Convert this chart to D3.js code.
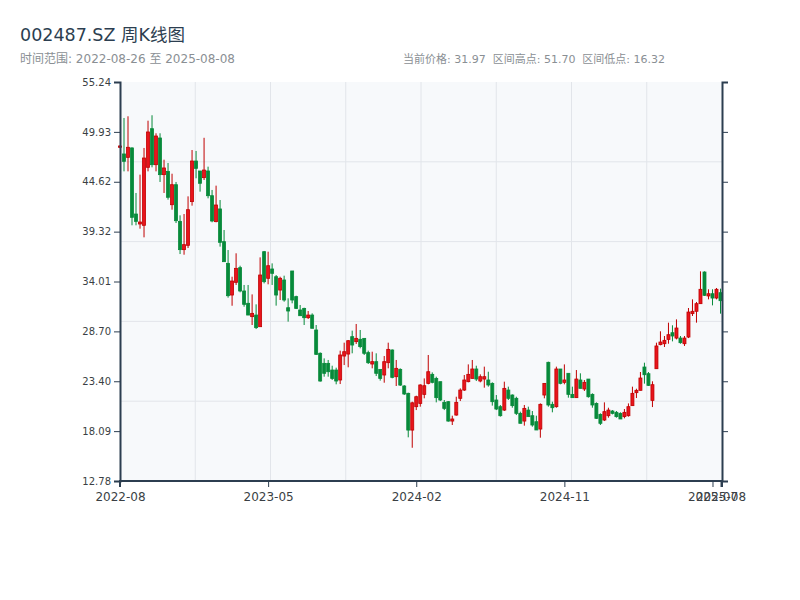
<!DOCTYPE html>
<html>
<head>
<meta charset="utf-8">
<style>
  body { margin: 0; background: #fff; }
  text { font-family: "DejaVu Sans", "Noto Sans CJK SC", sans-serif; }
</style>
</head>
<body>
<script src="https://d3js.org/d3.v7.min.js"></script>
<script>
// weekly bars, 002487.SZ
var dates = ["2022-08-26","2022-09-02","2022-09-09","2022-09-16","2022-09-23","2022-09-30","2022-10-14","2022-10-21","2022-10-28","2022-11-04",
  "2022-11-11","2022-11-18","2022-11-25","2022-12-02","2022-12-09","2022-12-16","2022-12-23","2022-12-30","2023-01-06","2023-01-13",
  "2023-01-20","2023-02-03","2023-02-10","2023-02-17","2023-02-24","2023-03-03","2023-03-10","2023-03-17","2023-03-24","2023-03-31",
  "2023-04-07","2023-04-14","2023-04-21","2023-04-28","2023-05-05","2023-05-12","2023-05-19","2023-05-26","2023-06-02","2023-06-09",
  "2023-06-16","2023-06-21","2023-06-30","2023-07-07","2023-07-14","2023-07-21","2023-07-28","2023-08-04","2023-08-11","2023-08-18",
  "2023-08-25","2023-09-01","2023-09-08","2023-09-15","2023-09-22","2023-09-28","2023-10-13","2023-10-20","2023-10-27","2023-11-03",
  "2023-11-10","2023-11-17","2023-11-24","2023-12-01","2023-12-08","2023-12-15","2023-12-22","2023-12-29","2024-01-05","2024-01-12",
  "2024-01-19","2024-01-26","2024-02-02","2024-02-08","2024-02-23","2024-03-01","2024-03-08","2024-03-15","2024-03-22","2024-03-29",
  "2024-04-03","2024-04-12","2024-04-19","2024-04-26","2024-04-30","2024-05-10","2024-05-17","2024-05-24","2024-05-31","2024-06-07",
  "2024-06-14","2024-06-21","2024-06-28","2024-07-05","2024-07-12","2024-07-19","2024-07-26","2024-08-02","2024-08-09","2024-08-16",
  "2024-08-23","2024-08-30","2024-09-06","2024-09-13","2024-09-20","2024-09-27","2024-09-30","2024-10-11","2024-10-18","2024-10-25",
  "2024-11-01","2024-11-08","2024-11-15","2024-11-22","2024-11-29","2024-12-06","2024-12-13","2024-12-20","2024-12-27","2025-01-03",
  "2025-01-10","2025-01-17","2025-01-24","2025-01-27","2025-02-07","2025-02-14","2025-02-21","2025-02-28","2025-03-07","2025-03-14",
  "2025-03-21","2025-03-28","2025-04-03","2025-04-11","2025-04-18","2025-04-25","2025-04-30","2025-05-09","2025-05-16","2025-05-23",
  "2025-05-30","2025-06-06","2025-06-13","2025-06-20","2025-06-27","2025-07-04","2025-07-11","2025-07-18","2025-07-25","2025-08-01",
  "2025-08-08"];

var open = [48.29,47.58,47.22,48.22,41.19,40.13,39.99,46.16,50.27,46.44,
  49.28,45.38,45.73,42.18,44.31,40.41,37.40,37.86,42.51,46.83,
  45.77,45.06,45.77,43.14,40.38,41.73,38.25,35.94,32.57,33.92,
  35.48,33.00,31.69,30.27,30.44,29.20,37.18,34.35,35.34,34.52,
  33.10,34.17,31.22,35.13,32.40,30.98,31.15,30.16,30.44,28.85,
  26.37,25.30,25.30,24.59,24.59,23.53,26.08,26.29,28.14,27.61,
  27.86,27.96,26.44,25.23,25.48,24.66,24.06,25.37,26.72,23.88,
  24.66,22.89,22.11,18.20,20.69,21.04,22.00,23.17,24.13,23.70,
  23.35,21.15,21.22,19.16,19.80,21.58,22.46,23.35,23.70,24.70,
  23.42,23.63,23.53,23.17,21.40,20.69,20.33,22.46,21.93,21.58,
  19.98,19.16,20.33,19.73,19.09,18.31,21.93,25.41,20.94,20.69,
  24.70,23.28,24.24,22.00,21.65,23.53,22.57,23.63,22.00,21.04,
  19.87,19.27,19.73,20.23,20.09,19.98,19.63,19.73,20.80,22.18,
  22.43,24.91,24.20,21.36,24.73,27.29,27.39,27.85,28.56,27.99,
  27.99,27.39,28.10,30.59,30.84,31.65,35.02,32.47,32.71,32.25,
  32.82];

var close = [48.43,46.80,48.29,40.84,40.41,40.34,47.15,49.92,46.44,49.49,
  45.38,46.09,42.97,44.31,40.48,37.40,37.93,41.65,46.83,46.05,
  44.46,45.87,43.14,40.45,42.15,38.18,36.12,32.50,34.06,35.41,
  33.00,31.58,30.44,30.62,29.10,34.70,33.99,35.69,34.88,32.57,
  34.35,32.04,30.87,32.04,31.15,30.37,30.16,30.44,29.03,26.26,
  23.42,24.24,24.41,23.70,23.42,26.19,26.54,27.71,27.25,27.96,
  27.08,26.37,25.37,25.48,24.24,23.70,25.48,26.79,23.81,24.77,
  22.99,22.04,18.20,21.10,21.75,23.00,22.92,24.41,23.28,21.65,
  21.40,20.51,19.16,19.38,21.15,22.46,23.53,24.13,24.70,23.63,
  23.88,23.88,23.00,21.22,20.44,19.73,22.64,21.58,20.80,19.98,
  18.92,20.51,19.63,18.74,18.21,20.94,23.17,20.87,20.58,24.70,
  23.17,23.53,22.00,21.65,23.63,22.64,23.28,21.75,20.87,19.45,
  18.92,20.16,20.33,19.98,19.63,19.38,20.09,20.69,22.11,22.43,
  23.74,24.09,22.96,23.03,27.15,27.57,27.75,28.35,28.21,29.06,
  27.50,27.99,30.76,30.84,31.65,33.18,32.54,32.71,32.25,33.18,
  31.97];

var high = [48.50,51.41,51.59,48.29,43.43,45.38,48.22,51.12,51.70,49.78,
  49.78,46.97,46.62,45.48,44.60,41.05,41.19,43.07,48.00,47.90,
  45.77,49.30,46.23,43.75,44.21,42.68,39.49,37.36,34.52,37.01,
  35.69,33.64,33.64,32.64,31.58,36.58,37.26,37.18,35.94,34.70,
  34.52,34.63,32.22,35.13,32.50,31.51,31.22,30.87,30.62,29.38,
  26.47,25.83,25.66,25.05,24.84,26.65,27.50,27.78,28.78,29.49,
  28.85,27.96,26.65,26.54,26.37,24.66,26.08,27.50,26.79,25.66,
  24.77,22.99,22.18,21.22,21.86,23.07,23.70,26.19,24.34,23.88,
  23.35,21.40,21.29,19.73,21.75,22.64,24.06,25.19,25.66,25.05,
  24.13,24.95,24.41,23.28,21.93,20.87,23.35,22.82,22.00,21.75,
  20.16,20.87,20.69,20.23,19.73,21.04,23.17,25.48,21.22,24.95,
  24.70,25.19,24.24,22.82,24.59,24.24,23.53,23.63,22.11,21.15,
  19.98,21.15,20.58,20.33,20.23,20.09,20.44,21.04,22.82,22.60,
  24.38,25.37,24.38,23.39,27.50,28.71,28.21,29.63,29.35,29.98,
  28.21,28.21,31.19,32.11,31.83,35.09,35.09,33.18,33.18,33.32,
  33.25];

var low = [48.20,45.73,45.73,39.99,39.99,39.63,38.71,45.73,46.16,45.73,
  44.60,43.43,42.72,41.65,40.23,36.93,36.86,37.57,42.08,44.99,
  43.57,44.81,42.86,40.31,40.31,37.72,36.12,32.29,31.43,33.64,
  32.86,31.33,30.44,29.38,28.95,29.20,33.81,33.71,33.64,31.44,
  32.04,31.86,29.74,31.69,31.08,30.37,29.38,30.02,29.03,26.19,
  23.35,23.88,23.88,23.53,23.07,23.10,25.12,24.88,26.37,27.36,
  26.90,26.19,25.23,24.77,23.95,23.46,23.24,24.77,23.71,22.89,
  22.89,21.93,17.43,16.32,20.33,20.69,21.58,23.07,23.17,21.15,
  21.29,20.33,19.09,18.74,19.73,21.29,22.36,23.28,23.70,23.42,
  23.28,22.71,22.82,20.80,20.33,19.63,20.23,21.40,20.58,19.80,
  18.92,18.67,19.63,18.56,18.21,17.39,21.58,20.69,20.09,20.58,
  23.07,23.07,21.65,21.65,21.65,22.64,22.36,21.65,20.58,19.38,
  18.74,19.16,19.52,19.87,19.52,19.38,19.45,19.63,20.80,21.61,
  22.43,23.14,22.89,20.65,24.73,27.22,27.04,27.39,27.64,27.85,
  27.39,27.15,27.99,30.34,29.63,31.65,32.47,32.11,31.47,32.11,
  30.59];

var width = 800, height = 600;
var x0 = 120, x1 = 722, y0 = 82, y1 = 481;
var upColor = "#e8141c", upStroke = "#c00000", downColor = "#078a3a";

var svg = d3.select("body").append("svg").attr("width", width).attr("height", height);

var n = dates.length;
var hi = d3.max(high), lo = d3.min(low);
var pad = (hi - lo) * 0.1;

var x = d3.scalePoint().domain(d3.range(n)).range([x0, 720.5]);
var y = d3.scaleLinear().domain([lo - pad, hi + pad]).range([y1, y0]);

// header
svg.append("text").attr("x", 20).attr("y", 41)
  .attr("font-size", 17.5).attr("fill", "#2c3e50")
  .text("002487.SZ 周K线图");
svg.append("text").attr("x", 20).attr("y", 63)
  .attr("font-size", 12).attr("fill", "#8a8f94")
  .text("时间范围: " + dates[0] + " 至 " + dates[n - 1]);
svg.append("text").attr("x", 403).attr("y", 63)
  .attr("font-size", 11).attr("fill", "#8a8f94").style("white-space", "pre")
  .text("当前价格: " + close[n - 1].toFixed(2) + "  区间高点: " + hi.toFixed(2) + "  区间低点: " + lo.toFixed(2));

// plot background + grid
svg.append("rect").attr("x", x0).attr("y", y0).attr("width", x1 - x0).attr("height", y1 - y0)
  .attr("fill", "#f7f9fb");

var gx = d3.scaleLinear().domain([0, 8]).range([x0, x1]);
var gy = d3.scaleLinear().domain([0, 5]).range([y0, y1]);
svg.append("g").selectAll("line").data(d3.range(1, 8)).enter().append("line")
  .attr("x1", function(d) { return gx(d); }).attr("x2", function(d) { return gx(d); })
  .attr("y1", y0).attr("y2", y1)
  .attr("stroke", "#e2e5ea").attr("stroke-width", 1);
svg.append("g").selectAll("line").data(d3.range(1, 5)).enter().append("line")
  .attr("y1", function(d) { return gy(d); }).attr("y2", function(d) { return gy(d); })
  .attr("x1", x0).attr("x2", x1)
  .attr("stroke", "#e2e5ea").attr("stroke-width", 1);

// candles
var bw = 3;
var candles = svg.append("g").selectAll("g").data(d3.range(n)).enter().append("g");
candles.append("line")
  .attr("x1", function(i) { return x(i); }).attr("x2", function(i) { return x(i); })
  .attr("y1", function(i) { return y(high[i]); }).attr("y2", function(i) { return y(low[i]); })
  .attr("stroke", function(i) { return close[i] >= open[i] ? upStroke : downColor; })
  .attr("stroke-width", 1);
candles.append("rect")
  .attr("x", function(i) { return x(i) - bw / 2; })
  .attr("width", bw)
  .attr("y", function(i) { return y(Math.max(open[i], close[i])); })
  .attr("height", function(i) { return Math.max(1, Math.abs(y(open[i]) - y(close[i]))); })
  .attr("fill", function(i) { return close[i] >= open[i] ? upColor : downColor; })
  .attr("stroke", function(i) { return close[i] >= open[i] ? upStroke : downColor; })
  .attr("stroke-width", 0.8);

// axes
var yTicks = d3.range(9).map(function(k) { return y.domain()[0] + k * (y.domain()[1] - y.domain()[0]) / 8; });
var step = Math.floor(n / 4);
var xTicks = d3.range(0, n, step);
if (xTicks[xTicks.length - 1] !== n - 1) xTicks.push(n - 1);

var axisY = svg.append("g").attr("transform", "translate(" + x0 + ",0)")
  .call(d3.axisLeft(y).tickValues(yTicks).tickFormat(d3.format(".2f")));
var axisR = svg.append("g").attr("transform", "translate(" + x1 + ",0)")
  .call(d3.axisRight(y).tickValues(yTicks).tickFormat(""));
var axisX = svg.append("g").attr("transform", "translate(0," + y1 + ")")
  .call(d3.axisBottom(x).tickValues(xTicks).tickFormat(function(i) { return dates[i].slice(0, 7); }));
axisX.select(".domain").attr("d", "M" + x0 + ",6V0H" + x1 + "V6");

[axisY, axisR, axisX].forEach(function(a) {
  a.select(".domain").attr("stroke", "#2c3e50").attr("stroke-width", 2);
  a.selectAll(".tick line").attr("stroke", "#2c3e50");
  a.selectAll(".tick text").attr("fill", "#3a3f44")
    .style("font-family", "'DejaVu Sans', sans-serif");
});
axisY.selectAll(".tick text").attr("font-size", 10);
axisX.selectAll(".tick text").attr("font-size", 12).attr("dy", "0.9em");
</script>
</body>
</html>
